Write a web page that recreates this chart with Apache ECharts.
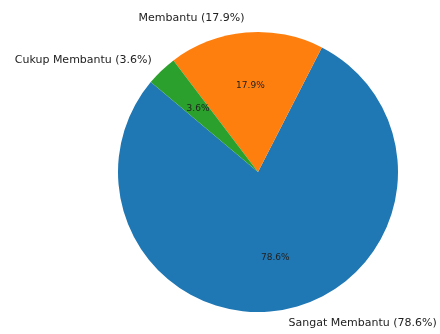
<!DOCTYPE html>
<html>
<head>
    <meta charset="utf-8">
    <title>Pie</title>
    <script src="https://cdn.jsdelivr.net/npm/echarts@6/dist/echarts.min.js"></script>
</head>
<body style="margin:0">
    <div id="main" style="width: 440px;height:334px;"></div>
    <script type="text/javascript">
        // data (28 answers: 22 / 5 / 1)
        var categories = ['Sangat Membantu', 'Membantu', 'Cukup Membantu'];
        var values = [22, 5, 1];
        var colors = ['#1f77b4', '#ff7f0e', '#2ca02c'];

        var total = values.reduce(function (a, b) { return a + b; }, 0);
        function pct(v) {
            return (v / total * 100).toFixed(1) + '%';
        }

        var data = categories.map(function (name, i) {
            return { name: name, value: values[i], itemStyle: { color: colors[i] } };
        });

        var myChart = echarts.init(document.getElementById('main'));
        var option = {
            animation: false,
            series: [{
                // solid pie + outer labels
                type: 'pie',
                center: [258, 172],
                radius: [0, 140],
                startAngle: 140,
                clockwise: false,
                avoidLabelOverlap: false,
                silent: true,
                itemStyle: { borderWidth: 0 },
                label: {
                    show: true,
                    position: 'outside',
                    distanceToLabelLine: 0,
                    fontFamily: 'DejaVu Sans',
                    fontSize: 11,
                    color: '#222',
                    formatter: function (p) {
                        return p.name + ' (' + pct(p.value) + ')';
                    }
                },
                labelLine: { show: false, length: 14, length2: 0 },
                data: data
            }, {
                // transparent ring only for the percentages at 0.6 r
                type: 'pie',
                center: [258, 172],
                radius: [28, 140],
                startAngle: 140,
                clockwise: false,
                silent: true,
                itemStyle: { color: 'rgba(0,0,0,0)', borderWidth: 0 },
                label: {
                    show: true,
                    position: 'inside',
                    fontFamily: 'DejaVu Sans',
                    fontSize: 9,
                    color: '#222',
                    formatter: function (p) {
                        return pct(p.value);
                    }
                },
                labelLine: { show: false },
                data: categories.map(function (name, i) {
                    return { name: name, value: values[i] };
                })
            }]
        };
        myChart.setOption(option);
    </script>
</body>
</html>
